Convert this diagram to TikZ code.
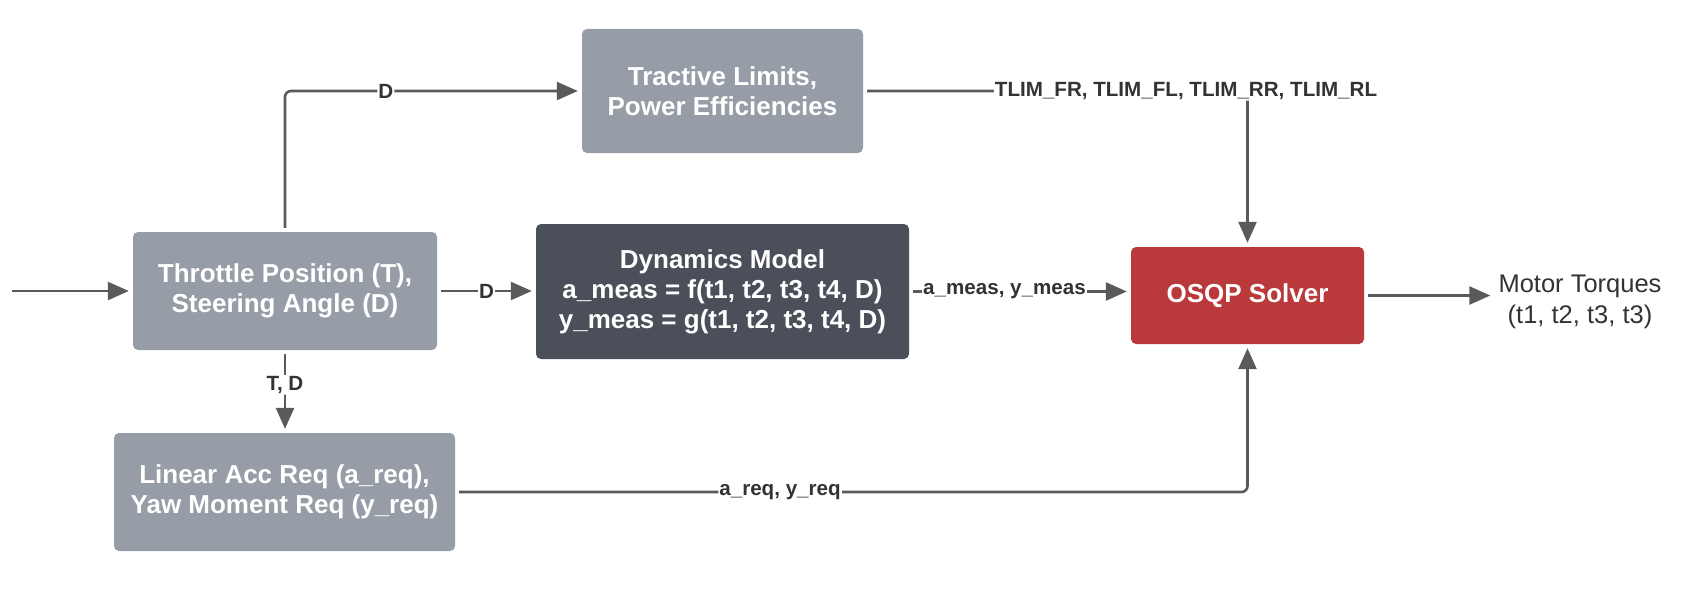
\documentclass[tikz,border=0pt]{standalone}
\usepackage{fontspec}
\setmainfont{Liberation Sans}
\usetikzlibrary{arrows.meta,calc}
\definecolor{boxg}{HTML}{979DA7}
\definecolor{boxd}{HTML}{4A4F59}
\definecolor{boxr}{HTML}{BA3A3C}
\definecolor{linec}{HTML}{5A5A5A}
\definecolor{labc}{HTML}{333333}
\begin{document}
\begin{tikzpicture}[x=1pt,y=-1pt,
  box/.style={rectangle, rounded corners=5pt, text=white, font=\fontsize{26}{30}\selectfont\bfseries, align=center, inner sep=0pt},
  conn/.style={draw=linec, line width=2.6pt, -{Triangle[length=21pt,width=18pt]}, rounded corners=6pt, shorten >=4pt, shorten <=4pt},
  lab/.style={fill=white, text=labc, font=\fontsize{20.6}{24}\selectfont\bfseries, inner sep=1pt}]
\useasboundingbox (0,0) rectangle (1681,602);
\node[box, fill=boxg, minimum width=281pt, minimum height=124pt] (tract) at (722.5,91) {Tractive Limits,\\Power Efficiencies};
\node[box, fill=boxg, minimum width=304pt, minimum height=118pt] (throttle) at (285,291) {Throttle Position (T),\\Steering Angle (D)};
\node[box, fill=boxd, minimum width=373pt, minimum height=135pt] (dyn) at (722.5,291.5) {Dynamics Model\\a\_meas = f(t1, t2, t3, t4, D)\\y\_meas = g(t1, t2, t3, t4, D)};
\node[box, fill=boxr, minimum width=233pt, minimum height=97pt] (osqp) at (1247.5,295.5) {OSQP Solver};
\node[box, fill=boxg, minimum width=341pt, minimum height=118pt] (linear) at (284.5,492) {Linear Acc Req (a\_req),\\Yaw Moment Req (y\_req)};
\node[text=labc, font=\fontsize{25.5}{31}\selectfont, align=center, inner sep=6pt] (motor) at (1580,302) {Motor Torques\\(t1, t2, t3, t3)};
\coordinate (in) at (12,291);
\draw[conn, shorten <=0pt] (in) -- (throttle.west);
\draw[conn] (throttle.north) -- (throttle.north |- tract.west) -- node[lab, pos=0.34] (ld) {D} (tract.west);
\draw[conn] (throttle.east) -- node[lab, pos=0.5] (ld2) {D} (throttle.east -| dyn.west);
\draw[conn] (throttle.south) -- node[lab, pos=0.42] (ltd) {T, D} (throttle.south |- linear.north);
\draw[conn] (dyn.east) -- node[lab, pos=0.43] (lmeas) {a\_meas, y\_meas} (dyn.east -| osqp.west);
\draw[conn] (tract.east) -- node[lab, pos=0.84] (ltlim) {TLIM\_FR, TLIM\_FL, TLIM\_RR, TLIM\_RL} (tract.east -| osqp.north) -- (osqp.north);
\draw[conn] (linear.east) -- node[lab, pos=0.41] (lreq) {a\_req, y\_req} (linear.east -| osqp.south) -- (osqp.south);
\draw[conn, shorten >=2pt] (osqp.east) -- (osqp.east -| motor.west);
\end{tikzpicture}
\end{document}
